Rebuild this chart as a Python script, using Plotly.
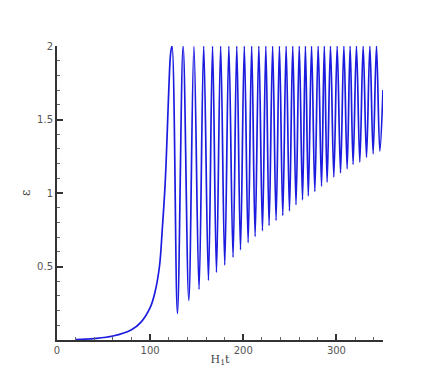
import plotly.graph_objects as go

# growth phase
growth_x = [20, 40, 60, 80, 90, 100, 105, 110, 113, 116, 118, 120, 122]
growth_y = [0.003, 0.01, 0.027, 0.07, 0.12, 0.22, 0.32, 0.5, 0.75, 1.05, 1.35, 1.7, 1.95]

# oscillation: troughs
trough_x = [129.3, 141.5, 152.5, 162.6, 171.2, 180.1, 189.0, 197.0, 205.2, 212.7,
            220.6, 227.7, 235.2, 242.4, 249.6, 256.6, 263.6, 269.8, 276.8, 284.0,
            290.0, 297.2, 304.4, 311.5, 317.9, 325.1, 332.3, 339.4, 346.6]
trough_y = [0.18, 0.27, 0.345, 0.405, 0.46, 0.51, 0.563, 0.613, 0.662, 0.703,
            0.743, 0.779, 0.813, 0.847, 0.878, 0.92, 0.953, 0.98, 1.01, 1.047,
            1.074, 1.108, 1.137, 1.164, 1.194, 1.21, 1.243, 1.266, 1.284]

# oscillation: peaks (all touch 2)
peak_x = [123.5, 135.4, 147.0, 157.5, 167.0, 175.7, 184.5, 193.0, 201.1, 209.0,
          216.7, 224.2, 231.5, 238.8, 246.0, 253.1, 260.1, 266.7, 273.3, 280.4,
          287.0, 293.6, 300.8, 308.0, 314.7, 321.5, 328.7, 335.9, 343.0]
peak_y = [2.0] * len(peak_x)

end_x = [350]
end_y = [1.7]

pts = sorted(zip(growth_x + trough_x + peak_x + end_x,
                 growth_y + trough_y + peak_y + end_y))
xs = [p[0] for p in pts]
ys = [p[1] for p in pts]

fig = go.Figure()
fig.add_trace(go.Scatter(x=xs, y=ys, mode='lines',
                         line=dict(color='#1c1ce0', width=1.7, shape='spline', smoothing=1)))

axis_common = dict(showline=True, linecolor='#333', linewidth=2, ticks='inside',
                   tickcolor='#333', tickwidth=2, ticklen=6, showgrid=False,
                   zeroline=False, automargin=False,
                   tickfont=dict(family='DejaVu Sans', size=10, color='#555'))

# page body adds 8px, so the figure is a bit smaller than the window
fig.update_layout(
    width=428, height=374,
    margin=dict(l=49, r=53, t=38, b=42),
    plot_bgcolor='white', paper_bgcolor='white',
    showlegend=False,
    font=dict(family='DejaVu Sans', size=10, color='#444'),
    xaxis=dict(range=[0, 350], tickvals=[0, 100, 200, 300],
               minor=dict(ticks='inside', ticklen=3, tickwidth=1, tickcolor='#666',
                          tick0=0, dtick=20),
               title=dict(text='H<sub>1</sub>t', standoff=0,
                          font=dict(family='DejaVu Serif', size=11, color='#444')),
               **axis_common),
    yaxis=dict(range=[0, 2], tickvals=[0.5, 1, 1.5, 2],
               minor=dict(ticks='inside', ticklen=3, tickwidth=1, tickcolor='#666',
                          tick0=0, dtick=0.1),
               title=dict(text='ε', standoff=4,
                          font=dict(family='DejaVu Serif', size=12, color='#444')),
               **axis_common),
)

fig.write_html("out.html")
